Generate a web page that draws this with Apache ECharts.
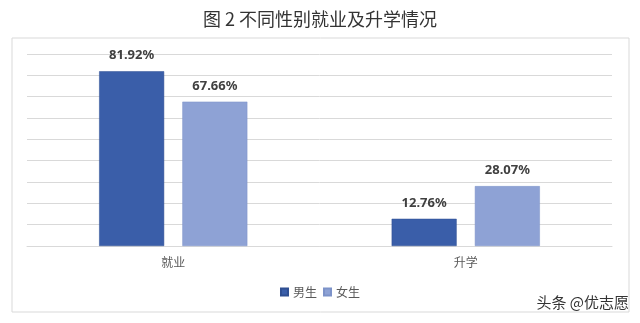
<!DOCTYPE html>
<html><head><meta charset="utf-8">
<script src="https://cdn.jsdelivr.net/npm/echarts@6/dist/echarts.min.js"></script>
<style>html,body{margin:0;padding:0;background:#fff;}#c{width:640px;height:323px;}</style>
</head><body><div id="c"></div>
<script>
var titleText = '图 2 不同性别就业及升学情况';
var categories = ['就业', '升学'];
var seriesNames = ['男生', '女生'];
var maleValues = [81.92, 12.76];
var femaleValues = [67.66, 28.07];
var yMin = 0, yMax = 90, yInterval = 10;

var chart = echarts.init(document.getElementById('c'), null, {renderer: 'canvas'});
var labelStyle = {
  show: true, position: 'top', distance: 9,
  formatter: function (p) { return p.value.toFixed(2) + '%'; },
  color: '#404040', fontWeight: 'bold', fontSize: 13,
  fontFamily: 'Noto Sans, DejaVu Sans, sans-serif'
};
chart.setOption({
  animation: false,
  backgroundColor: '#fff',
  title: {
    text: titleText, left: 'center', top: 5,
    textStyle: {fontSize: 18, fontWeight: 'normal', color: '#333', fontFamily: 'Noto Sans CJK SC'}
  },
  graphic: [
    {type: 'rect', shape: {x: 12, y: 38, width: 617, height: 274},
     style: {fill: 'none', stroke: '#d9d9d9', lineWidth: 1}, silent: true, z: -1},
    {type: 'text', right: 11, bottom: 13,
     style: {text: '头条 @优志愿', fontSize: 15, fill: '#333', fontFamily: 'Noto Sans CJK SC'}}
  ],
  legend: {
    data: seriesNames, left: 'center', top: 281,
    itemWidth: 7, itemHeight: 7, itemGap: 6, icon: 'rect',
    textStyle: {fontSize: 12, color: '#595959', fontFamily: 'Noto Sans CJK SC'}
  },
  grid: {left: 27, right: 28, top: 54, bottom: 77},
  xAxis: {
    type: 'category', data: categories,
    axisLine: {lineStyle: {color: '#d9d9d9'}},
    axisTick: {show: false},
    axisLabel: {fontSize: 12, color: '#595959', margin: 10, fontFamily: 'Noto Sans CJK SC'}
  },
  yAxis: {
    type: 'value', min: yMin, max: yMax, interval: yInterval,
    axisLabel: {show: false}, axisLine: {show: false}, axisTick: {show: false},
    splitLine: {lineStyle: {color: '#d9d9d9', width: 1}}
  },
  series: [
    {name: seriesNames[0], type: 'bar', data: maleValues, barWidth: 65, barGap: '28%',
     itemStyle: {color: '#3a5ea9', borderColor: '#2f4f92', borderWidth: 0.5}, label: labelStyle},
    {name: seriesNames[1], type: 'bar', data: femaleValues, barWidth: 65,
     itemStyle: {color: '#8ea2d5', borderColor: '#7d93c9', borderWidth: 0.5}, label: labelStyle}
  ]
});
</script></body></html>
